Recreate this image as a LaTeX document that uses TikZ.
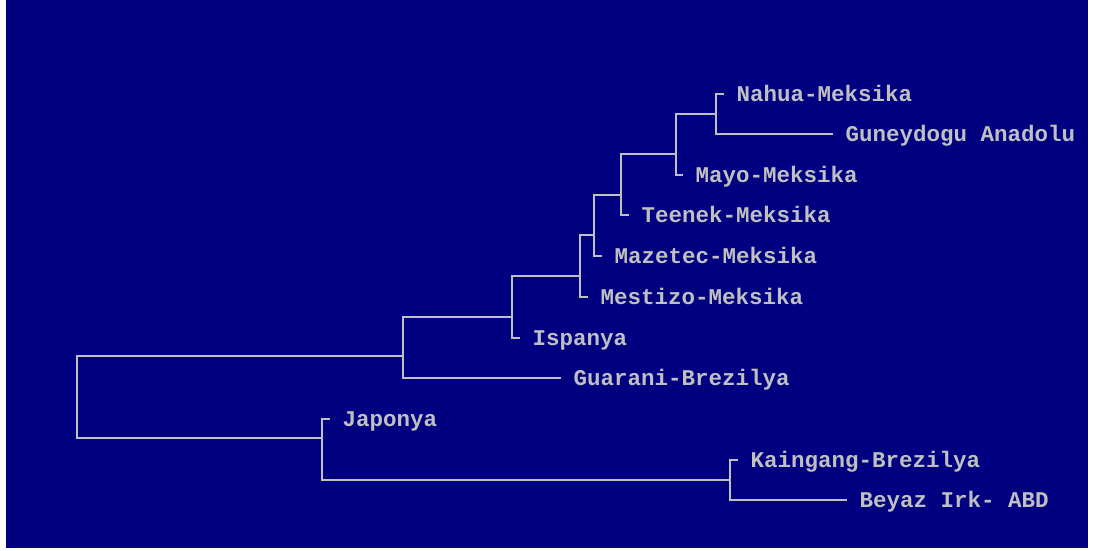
\documentclass[tikz,border=0pt]{standalone}
\usepackage{fontspec}
\setmonofont{Liberation Mono}
\definecolor{bgblue}{HTML}{000080}
\definecolor{treegray}{HTML}{C0C0C0}
\begin{document}
\begin{tikzpicture}[x=1pt,y=-1pt,
  branch/.style={draw=treegray,line width=2pt,line cap=rect},
  leaf/.style={anchor=west,inner xsep=13.5pt,inner ysep=0pt,text=treegray,
    font=\fontsize{22.5}{24}\selectfont\ttfamily\bfseries,text height=15pt,text depth=0pt}]
\useasboundingbox (0,0) rectangle (1093,551);
\fill[white] (0,0) rectangle (1093,551);
\fill[bgblue] (6,0) rectangle (1088,548);
% leaves
\node[leaf] (nahua) at (723,94) {Nahua-Meksika};
\node[leaf] (gun) at (832,134) {Guneydogu Anadolu};
\node[leaf] (mayo) at (682,175) {Mayo-Meksika};
\node[leaf] (teenek) at (628,215) {Teenek-Meksika};
\node[leaf] (mazetec) at (601,256) {Mazetec-Meksika};
\node[leaf] (mestizo) at (587,297) {Mestizo-Meksika};
\node[leaf] (ispanya) at (519,338) {Ispanya};
\node[leaf] (guarani) at (560,378) {Guarani-Brezilya};
\node[leaf] (japonya) at (329,419) {Japonya};
\node[leaf] (kaingang) at (737,460) {Kaingang-Brezilya};
\node[leaf] (beyaz) at (846,500) {Beyaz Irk- ABD};
% internal nodes
\coordinate (g) at (716,114);
\coordinate (f) at (676,154);
\coordinate (e) at (621,195);
\coordinate (d) at (594,235);
\coordinate (c) at (580,276);
\coordinate (b) at (512,317);
\coordinate (a) at (403,356);
\coordinate (k) at (730,480);
\coordinate (j) at (322,438);
\coordinate (r) at (77,397);
% brackets
\draw[branch] (nahua.west) -| (g) |- (gun.west);
\draw[branch] (g) -| (f) |- (mayo.west);
\draw[branch] (f) -| (e) |- (teenek.west);
\draw[branch] (e) -| (d) |- (mazetec.west);
\draw[branch] (d) -| (c) |- (mestizo.west);
\draw[branch] (c) -| (b) |- (ispanya.west);
\draw[branch] (b) -| (a) |- (guarani.west);
\draw[branch] (kaingang.west) -| (k) |- (beyaz.west);
\draw[branch] (japonya.west) -| (j) |- (k);
\draw[branch] (a) -| (r) |- (j);
\end{tikzpicture}
\end{document}
